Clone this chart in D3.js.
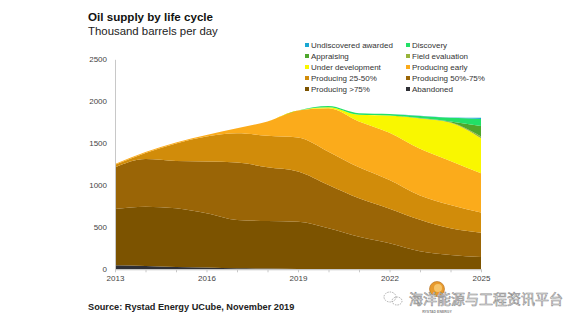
<!DOCTYPE html>
<html lang="en">
<head>
  <meta charset="UTF-8">
  <title>Oil supply by life cycle</title>
  <script src="https://d3js.org/d3.v7.min.js"></script>
  <style>
    body {
      margin: 0;
      background: #fff;
      font-family: "Liberation Sans", Arial, sans-serif;
    }
  </style>
</head>
<body>

<svg width="582" height="327"></svg>

<script>

  const years = [2013, 2014, 2015, 2016, 2017, 2018, 2019, 2020, 2021, 2022, 2023, 2024, 2025];

  // stack order, bottom to top
  const stages = [
    "Abandoned", "Producing >75%", "Producing 50%-75%", "Producing 25-50%",
    "Producing early", "Under development", "Field evaluation", "Appraising",
    "Discovery", "Undiscovered awarded"
  ];

  const abandoned    = [48, 40, 28, 20, 12, 10, 5, 3, 2, 2, 1, 1, 1];
  const producing75  = [669, 705, 698, 647, 575, 565, 562, 485, 386, 308, 214, 169, 144];
  const producing50  = [495, 567, 563, 615, 683, 640, 598, 515, 457, 412, 375, 318, 291];
  const producing25  = [33, 73, 208, 298, 349, 375, 405, 397, 369, 341, 288, 277, 240];
  const producingEarly = [10, 12, 13, 20, 60, 170, 320, 517, 546, 562, 557, 525, 467];
  const underDev     = [0, 0, 0, 0, 0, 0, 0, 13, 80, 205, 360, 455, 417];
  const fieldEval    = [0, 0, 0, 0, 0, 0, 0, 0, 0, 0, 2, 5, 20];
  const appraising   = [0, 0, 0, 0, 0, 0, 0, 0, 0, 0, 3, 10, 126];
  const discovery    = [0, 0, 0, 0, 0, 0, 0, 14, 18, 18, 25, 43, 84];
  const undiscovered = [0, 0, 0, 0, 0, 0, 0, 0, 0, 0, 3, 5, 15];

  const yTicks = [0, 500, 1000, 1500, 2000, 2500];
  const xLabels = [2013, 2016, 2019, 2022, 2025];

  const colors = {
    "Undiscovered awarded": "#1aa7d2",
    "Discovery": "#22e067",
    "Appraising": "#4ea72c",
    "Field evaluation": "#98b43a",
    "Under development": "#f9f700",
    "Producing early": "#fbab1b",
    "Producing 25-50%": "#d18c0a",
    "Producing 50%-75%": "#9a6506",
    "Producing >75%": "#7c5300",
    "Abandoned": "#2f3036"
  };

  const series = {
    "Abandoned": abandoned,
    "Producing >75%": producing75,
    "Producing 50%-75%": producing50,
    "Producing 25-50%": producing25,
    "Producing early": producingEarly,
    "Under development": underDev,
    "Field evaluation": fieldEval,
    "Appraising": appraising,
    "Discovery": discovery,
    "Undiscovered awarded": undiscovered
  };

  const legendRows = [
    ["Undiscovered awarded", "Discovery"],
    ["Appraising", "Field evaluation"],
    ["Under development", "Producing early"],
    ["Producing 25-50%", "Producing 50%-75%"],
    ["Producing >75%", "Abandoned"]
  ];

  const table = years.map((yr, i) => {
    const row = { year: yr };
    stages.forEach(s => row[s] = series[s][i]);
    return row;
  });

  const svg = d3.select("svg");

  const x = d3.scaleLinear().domain([2013, 2025]).range([115, 481]);
  const y = d3.scaleLinear().domain([0, 2500]).range([269.3, 59.3]);

  const stacked = d3.stack().keys(stages)(table);

  const area = d3.area()
    .curve(d3.curveMonotoneX)
    .x(d => x(d.data.year))
    .y0(d => y(d[0]))
    .y1(d => y(d[1]));

  svg.append("g")
    .selectAll("path")
    .data(stacked)
    .join("path")
    .attr("d", area)
    .attr("fill", d => colors[d.key]);

  // y axis: plain line, labels only
  const yAxis = svg.append("g")
    .attr("transform", `translate(${x(2013)},0)`)
    .call(d3.axisLeft(y).tickValues(yTicks).tickSize(0).tickSizeOuter(0)
      .tickPadding(8).tickFormat(d3.format("d")));
  yAxis.select(".domain").attr("stroke", "#c8c8c8");
  yAxis.selectAll("text")
    .attr("font-family", "Liberation Sans, Arial, sans-serif")
    .attr("font-size", 8)
    .attr("fill", "#444");

  // x axis with a tick every year
  const xAxis = svg.append("g")
    .attr("transform", `translate(0,${y(0)})`)
    .call(d3.axisBottom(x).tickValues(years).tickSize(3).tickSizeOuter(0).tickPadding(3)
      .tickFormat(d => xLabels.includes(d) ? d : ""));
  xAxis.select(".domain").attr("stroke", "#c8c8c8");
  xAxis.selectAll(".tick line").attr("stroke", "#c8c8c8");
  xAxis.selectAll("text")
    .attr("font-family", "Liberation Sans, Arial, sans-serif")
    .attr("font-size", 8)
    .attr("fill", "#444");

  // titles
  svg.append("text")
    .attr("x", 88).attr("y", 21)
    .attr("font-size", 11.6).attr("font-weight", "bold")
    .attr("fill", "#111")
    .text("Oil supply by life cycle");
  svg.append("text")
    .attr("x", 88).attr("y", 35)
    .attr("font-size", 11.4)
    .attr("fill", "#222")
    .text("Thousand barrels per day");

  // legend
  const legend = svg.append("g");
  legendRows.forEach((row, r) => {
    row.forEach((name, c) => {
      const g = legend.append("g")
        .attr("transform", `translate(${c === 0 ? 305 : 406},${45 + r * 11})`);
      g.append("rect")
        .attr("x", 0).attr("y", -2)
        .attr("width", 4).attr("height", 4)
        .attr("fill", colors[name]);
      g.append("text")
        .attr("x", 6).attr("y", 2.8)
        .attr("font-size", 8)
        .attr("fill", "#333")
        .text(name);
    });
  });

  // source
  svg.append("text")
    .attr("x", 88).attr("y", 310)
    .attr("font-size", 9.2).attr("font-weight", "bold")
    .attr("fill", "#222")
    .text("Source: Rystad Energy UCube, November 2019");

  // watermark: logo, chat icon and platform name
  const logo = svg.append("g").attr("transform", "translate(437,289)");
  logo.append("circle").attr("r", 7.5).attr("fill", "#e89a2c").attr("stroke", "#b06a1a").attr("stroke-width", 0.6);
  logo.append("circle").attr("r", 4).attr("cx", 1).attr("cy", -1).attr("fill", "#f6c46a");
  logo.append("text")
    .attr("y", 23.5).attr("text-anchor", "middle")
    .attr("font-size", 3.5).attr("font-weight", "bold").attr("fill", "#888")
    .text("RYSTAD ENERGY");

  const chat = svg.append("g").attr("transform", "translate(393,299)")
    .attr("fill", "none").attr("stroke", "#9a9a9a").attr("stroke-width", 0.8)
    .attr("stroke-dasharray", "1.5,1");
  chat.append("ellipse").attr("cx", -3).attr("cy", -2).attr("rx", 6).attr("ry", 5);
  chat.append("ellipse").attr("cx", 4).attr("cy", 2).attr("rx", 5).attr("ry", 4);

  svg.append("text")
    .attr("x", 409).attr("y", 304)
    .attr("font-family", "Noto Sans CJK SC, sans-serif")
    .attr("font-size", 14)
    .attr("fill", "#f6f6f6")
    .attr("stroke", "#8f8f8f")
    .attr("stroke-width", 0.6)
    .text("海洋能源与工程资讯平台");

</script>

</body>
</html>
